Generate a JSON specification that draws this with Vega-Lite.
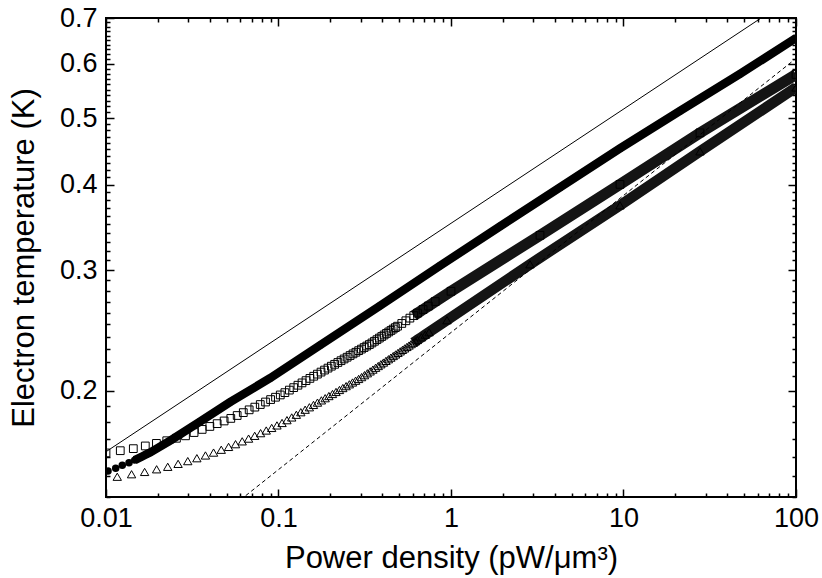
{
  "$schema": "https://vega.github.io/schema/vega-lite/v6.json",
  "width": 690,
  "height": 479,
  "autosize": {"type": "none"},
  "padding": {"left": 106, "top": 18, "right": 26, "bottom": 81},
  "config": {
    "view": {"stroke": "black", "strokeWidth": 2},
    "axis": {
      "domain": false, "grid": false, "tickColor": "black", "tickWidth": 1.5,
      "labelColor": "black", "titleColor": "black",
      "labelFont": "Liberation Sans", "titleFont": "Liberation Sans",
      "labelFontSize": 27, "titleFontSize": 31, "titleFontWeight": "normal",
      "labelFlush": false, "labelOverlap": false
    }
  },
  "datasets": {
    "ref": [
      {"g": "A", "p": 0.01, "t": 0.163}, {"g": "A", "p": 100, "t": 0.7565},
      {"g": "B", "p": 0.06, "t": 0.1386}, {"g": "B", "p": 100, "t": 0.611}
    ],
    "pts": [
      {"g": "C", "p": 0.01027, "t": 0.15276}, {"g": "C", "p": 0.011381, "t": 0.15415}, {"g": "C", "p": 0.012428, "t": 0.15571}, {"g": "C", "p": 0.013594, "t": 0.15707}, {"g": "C", "p": 0.014668, "t": 0.15847}, {"g": "C", "p": 0.015876, "t": 0.16002}, {"g": "C", "p": 0.017161, "t": 0.16159}, {"g": "C", "p": 0.017991, "t": 0.16252}, {"g": "C", "p": 0.023816, "t": 0.16948}, {"g": "C", "p": 0.035066, "t": 0.18033}, {"g": "C", "p": 0.052346, "t": 0.19256}, {"g": "C", "p": 0.089267, "t": 0.20867}, {"g": "C", "p": 0.174, "t": 0.23316}, {"g": "C", "p": 0.38779, "t": 0.26619}, {"g": "C", "p": 0.86344, "t": 0.30446}, {"g": "C", "p": 1.9236, "t": 0.3476}, {"g": "C", "p": 4.2835, "t": 0.39621}, {"g": "C", "p": 9.5437, "t": 0.4517}, {"g": "C", "p": 21.261, "t": 0.51233}, {"g": "C", "p": 47.356, "t": 0.58004}, {"g": "C", "p": 100, "t": 0.65441},
      {"g": "S", "p": 0.01, "t": 0.16234}, {"g": "S", "p": 0.0121, "t": 0.16357}, {"g": "S", "p": 0.0144, "t": 0.1647}, {"g": "S", "p": 0.0169, "t": 0.16619}, {"g": "S", "p": 0.0196, "t": 0.16763}, {"g": "S", "p": 0.0225, "t": 0.16913}, {"g": "S", "p": 0.0256, "t": 0.17055}, {"g": "S", "p": 0.0289, "t": 0.17195}, {"g": "S", "p": 0.0324, "t": 0.17386}, {"g": "S", "p": 0.0361, "t": 0.17569}, {"g": "S", "p": 0.04, "t": 0.17745}, {"g": "S", "p": 0.0441, "t": 0.17913}, {"g": "S", "p": 0.0484, "t": 0.18075}, {"g": "S", "p": 0.0529, "t": 0.18231}, {"g": "S", "p": 0.0576, "t": 0.18409}, {"g": "S", "p": 0.0625, "t": 0.18589}, {"g": "S", "p": 0.0676, "t": 0.18765}, {"g": "S", "p": 0.0729, "t": 0.18935}, {"g": "S", "p": 0.0784, "t": 0.19101}, {"g": "S", "p": 0.0841, "t": 0.19264}, {"g": "S", "p": 0.09, "t": 0.19422}, {"g": "S", "p": 0.0961, "t": 0.19576}, {"g": "S", "p": 0.1024, "t": 0.19727}, {"g": "S", "p": 0.1089, "t": 0.1988}, {"g": "S", "p": 0.1156, "t": 0.2005}, {"g": "S", "p": 0.1225, "t": 0.20217}, {"g": "S", "p": 0.1296, "t": 0.20381}, {"g": "S", "p": 0.1369, "t": 0.20542}, {"g": "S", "p": 0.1444, "t": 0.20699}, {"g": "S", "p": 0.1521, "t": 0.20854}, {"g": "S", "p": 0.16, "t": 0.21006}, {"g": "S", "p": 0.1681, "t": 0.21155}, {"g": "S", "p": 0.1764, "t": 0.21301}, {"g": "S", "p": 0.1849, "t": 0.21446}, {"g": "S", "p": 0.1936, "t": 0.21587}, {"g": "S", "p": 0.2025, "t": 0.21727}, {"g": "S", "p": 0.2116, "t": 0.21864}, {"g": "S", "p": 0.2209, "t": 0.21999}, {"g": "S", "p": 0.2304, "t": 0.22132}, {"g": "S", "p": 0.2401, "t": 0.22263}, {"g": "S", "p": 0.25, "t": 0.22393}, {"g": "S", "p": 0.2601, "t": 0.22519}, {"g": "S", "p": 0.2704, "t": 0.22646}, {"g": "S", "p": 0.2809, "t": 0.22769}, {"g": "S", "p": 0.2916, "t": 0.22892}, {"g": "S", "p": 0.3025, "t": 0.23012}, {"g": "S", "p": 0.3136, "t": 0.23132}, {"g": "S", "p": 0.3249, "t": 0.23249}, {"g": "S", "p": 0.3364, "t": 0.23366}, {"g": "S", "p": 0.3481, "t": 0.23492}, {"g": "S", "p": 0.36, "t": 0.23624}, {"g": "S", "p": 0.3721, "t": 0.23752}, {"g": "S", "p": 0.3844, "t": 0.23879}, {"g": "S", "p": 0.3969, "t": 0.24006}, {"g": "S", "p": 0.4096, "t": 0.2413}, {"g": "S", "p": 0.4225, "t": 0.24254}, {"g": "S", "p": 0.4356, "t": 0.24377}, {"g": "S", "p": 0.4489, "t": 0.24497}, {"g": "S", "p": 0.4624, "t": 0.24617}, {"g": "S", "p": 0.4761, "t": 0.24735}, {"g": "S", "p": 0.49, "t": 0.24853}, {"g": "S", "p": 0.5184, "t": 0.25084}, {"g": "S", "p": 0.5476, "t": 0.25311}, {"g": "S", "p": 0.5776, "t": 0.25535}, {"g": "S", "p": 0.6084, "t": 0.25754}, {"g": "S", "p": 0.64, "t": 0.25969}, {"g": "S", "p": 0.6889, "t": 0.26286}, {"g": "S", "p": 0.7396, "t": 0.26594}, {"g": "S", "p": 0.81, "t": 0.26996}, {"g": "S", "p": 1, "t": 0.27946}, {"g": "S", "p": 3.281, "t": 0.33729}, {"g": "S", "p": 9.5437, "t": 0.40022}, {"g": "S", "p": 27.762, "t": 0.47587}, {"g": "S", "p": 100, "t": 0.57906},
      {"g": "T", "p": 0.011621, "t": 0.14986}, {"g": "T", "p": 0.014066, "t": 0.15113}, {"g": "T", "p": 0.016744, "t": 0.1523}, {"g": "T", "p": 0.019656, "t": 0.15366}, {"g": "T", "p": 0.022801, "t": 0.15495}, {"g": "T", "p": 0.026179, "t": 0.15649}, {"g": "T", "p": 0.029791, "t": 0.15794}, {"g": "T", "p": 0.033636, "t": 0.15949}, {"g": "T", "p": 0.037714, "t": 0.16097}, {"g": "T", "p": 0.042025, "t": 0.16253}, {"g": "T", "p": 0.04657, "t": 0.16409}, {"g": "T", "p": 0.051348, "t": 0.16566}, {"g": "T", "p": 0.056359, "t": 0.16719}, {"g": "T", "p": 0.061603, "t": 0.16879}, {"g": "T", "p": 0.067081, "t": 0.17035}, {"g": "T", "p": 0.072792, "t": 0.17194}, {"g": "T", "p": 0.078736, "t": 0.1735}, {"g": "T", "p": 0.084914, "t": 0.17505}, {"g": "T", "p": 0.091325, "t": 0.17657}, {"g": "T", "p": 0.097969, "t": 0.17807}, {"g": "T", "p": 0.104846, "t": 0.17954}, {"g": "T", "p": 0.111957, "t": 0.18124}, {"g": "T", "p": 0.119301, "t": 0.18291}, {"g": "T", "p": 0.126878, "t": 0.18455}, {"g": "T", "p": 0.134689, "t": 0.18615}, {"g": "T", "p": 0.142733, "t": 0.18772}, {"g": "T", "p": 0.15101, "t": 0.18926}, {"g": "T", "p": 0.15952, "t": 0.19077}, {"g": "T", "p": 0.168264, "t": 0.19225}, {"g": "T", "p": 0.177241, "t": 0.1937}, {"g": "T", "p": 0.186451, "t": 0.19512}, {"g": "T", "p": 0.195895, "t": 0.19652}, {"g": "T", "p": 0.205572, "t": 0.1979}, {"g": "T", "p": 0.215482, "t": 0.19926}, {"g": "T", "p": 0.225625, "t": 0.20058}, {"g": "T", "p": 0.236, "t": 0.20189}, {"g": "T", "p": 0.246612, "t": 0.20318}, {"g": "T", "p": 0.257455, "t": 0.20444}, {"g": "T", "p": 0.268531, "t": 0.2057}, {"g": "T", "p": 0.279841, "t": 0.20693}, {"g": "T", "p": 0.291384, "t": 0.20815}, {"g": "T", "p": 0.30316, "t": 0.20944}, {"g": "T", "p": 0.31517, "t": 0.21081}, {"g": "T", "p": 0.327413, "t": 0.21216}, {"g": "T", "p": 0.339889, "t": 0.2135}, {"g": "T", "p": 0.352598, "t": 0.21481}, {"g": "T", "p": 0.365541, "t": 0.21612}, {"g": "T", "p": 0.378717, "t": 0.2174}, {"g": "T", "p": 0.392126, "t": 0.21868}, {"g": "T", "p": 0.405769, "t": 0.21993}, {"g": "T", "p": 0.419645, "t": 0.22118}, {"g": "T", "p": 0.433754, "t": 0.2224}, {"g": "T", "p": 0.448096, "t": 0.22363}, {"g": "T", "p": 0.462672, "t": 0.22482}, {"g": "T", "p": 0.477481, "t": 0.22602}, {"g": "T", "p": 0.492523, "t": 0.22719}, {"g": "T", "p": 0.507799, "t": 0.22836}, {"g": "T", "p": 0.523308, "t": 0.22951}, {"g": "T", "p": 0.53905, "t": 0.23066}, {"g": "T", "p": 0.555025, "t": 0.23178}, {"g": "T", "p": 0.571234, "t": 0.2329}, {"g": "T", "p": 0.587676, "t": 0.23401}, {"g": "T", "p": 0.604351, "t": 0.23511}, {"g": "T", "p": 0.621259, "t": 0.2362}, {"g": "T", "p": 0.638401, "t": 0.23728}, {"g": "T", "p": 0.673384, "t": 0.23941}, {"g": "T", "p": 0.709301, "t": 0.24151}, {"g": "T", "p": 0.74615, "t": 0.24357}, {"g": "T", "p": 0.94802, "t": 0.25358}, {"g": "T", "p": 2.8707, "t": 0.306}, {"g": "T", "p": 9.5437, "t": 0.37298}, {"g": "T", "p": 27.762, "t": 0.44717}, {"g": "T", "p": 100, "t": 0.5543}
    ]
  },
  "layer": [
    {
      "data": {"name": "ref"},
      "transform": [{"filter": "datum.g == 'A'"}],
      "mark": {"type": "line", "stroke": "black", "strokeWidth": 1, "clip": true},
      "encoding": {
        "x": {"field": "p", "type": "quantitative",
          "scale": {"type": "log", "domain": [0.01, 100], "nice": false},
          "axis": {"orient": "bottom", "title": "Power density (pW/μm³)",
            "values": [0.01,0.02,0.03,0.04,0.05,0.06,0.07,0.08,0.09,0.1,0.2,0.3,0.4,0.5,0.6,0.7,0.8,0.9,1,2,3,4,5,6,7,8,9,10,20,30,40,50,60,70,80,90,100],
            "labelExpr": "abs(log(datum.value)/LN10 - round(log(datum.value)/LN10)) < 0.001 ? format(datum.value, '~g') : ''",
            "tickSize": {"condition": {"test": "abs(log(datum.value)/LN10 - round(log(datum.value)/LN10)) < 0.001", "value": -8}, "value": -4},
            "labelPadding": 16, "titlePadding": 8}},
        "y": {"field": "t", "type": "quantitative",
          "scale": {"type": "log", "domain": [0.14, 0.7], "nice": false},
          "axis": {"orient": "left", "title": "Electron temperature (K)",
            "values": [0.14,0.15,0.16,0.17,0.18,0.19,0.2,0.21,0.22,0.23,0.24,0.25,0.26,0.27,0.28,0.29,0.3,0.31,0.32,0.33,0.34,0.35,0.36,0.37,0.38,0.39,0.4,0.41,0.42,0.43,0.44,0.45,0.46,0.47,0.48,0.49,0.5,0.51,0.52,0.53,0.54,0.55,0.56,0.57,0.58,0.59,0.6,0.61,0.62,0.63,0.64,0.65,0.66,0.67,0.68,0.69,0.7],
            "labelExpr": "abs(datum.value*10 - round(datum.value*10)) < 0.001 ? format(datum.value, '.1f') : ''",
            "tickSize": {"condition": {"test": "abs(datum.value*10 - round(datum.value*10)) < 0.001", "value": -8}, "value": -4},
            "labelPadding": 17, "titlePadding": 19}}
      }
    },
    {
      "data": {"name": "pts"},
      "transform": [{"filter": "datum.g == 'C' && datum.p >= 0.0146"}],
      "mark": {"type": "line", "stroke": "black", "strokeWidth": 8.5, "clip": true},
      "encoding": {
        "x": {"field": "p", "type": "quantitative",
          "scale": {"type": "log", "domain": [0.01, 100], "nice": false},
          "axis": {"orient": "top", "title": null, "labels": false,
            "values": [0.01,0.02,0.03,0.04,0.05,0.06,0.07,0.08,0.09,0.1,0.2,0.3,0.4,0.5,0.6,0.7,0.8,0.9,1,2,3,4,5,6,7,8,9,10,20,30,40,50,60,70,80,90,100],
            "tickSize": {"condition": {"test": "abs(log(datum.value)/LN10 - round(log(datum.value)/LN10)) < 0.001", "value": -8}, "value": -4}}},
        "y": {"field": "t", "type": "quantitative",
          "scale": {"type": "log", "domain": [0.14, 0.7], "nice": false},
          "axis": {"orient": "right", "title": null, "labels": false,
            "values": [0.14,0.15,0.16,0.17,0.18,0.19,0.2,0.21,0.22,0.23,0.24,0.25,0.26,0.27,0.28,0.29,0.3,0.31,0.32,0.33,0.34,0.35,0.36,0.37,0.38,0.39,0.4,0.41,0.42,0.43,0.44,0.45,0.46,0.47,0.48,0.49,0.5,0.51,0.52,0.53,0.54,0.55,0.56,0.57,0.58,0.59,0.6,0.61,0.62,0.63,0.64,0.65,0.66,0.67,0.68,0.69,0.7],
            "tickSize": {"condition": {"test": "abs(datum.value*10 - round(datum.value*10)) < 0.001", "value": -8}, "value": -4}}}
      }
    },
    {
      "data": {"name": "pts"},
      "transform": [{"filter": "datum.g == 'C'"}],
      "mark": {"type": "point", "shape": "circle", "filled": true, "fill": "black", "size": 56, "opacity": 1, "clip": true},
      "encoding": {
        "x": {"field": "p", "type": "quantitative", "scale": {"type": "log", "domain": [0.01, 100], "nice": false}, "axis": null},
        "y": {"field": "t", "type": "quantitative", "scale": {"type": "log", "domain": [0.14, 0.7], "nice": false}, "axis": null}
      }
    },
    {
      "data": {"name": "pts"},
      "transform": [{"filter": "datum.g == 'S' && datum.p >= 0.6"}],
      "mark": {"type": "line", "stroke": "#141414", "strokeWidth": 11, "clip": true},
      "encoding": {
        "x": {"field": "p", "type": "quantitative", "scale": {"type": "log", "domain": [0.01, 100], "nice": false}, "axis": null},
        "y": {"field": "t", "type": "quantitative", "scale": {"type": "log", "domain": [0.14, 0.7], "nice": false}, "axis": null}
      }
    },
    {
      "data": {"name": "pts"},
      "transform": [{"filter": "datum.g == 'S'"}],
      "mark": {"type": "point", "shape": "square", "filled": false, "stroke": "black", "strokeWidth": 1, "size": 60, "opacity": 1, "clip": true},
      "encoding": {
        "x": {"field": "p", "type": "quantitative", "scale": {"type": "log", "domain": [0.01, 100], "nice": false}, "axis": null},
        "y": {"field": "t", "type": "quantitative", "scale": {"type": "log", "domain": [0.14, 0.7], "nice": false}, "axis": null}
      }
    },
    {
      "data": {"name": "pts"},
      "transform": [{"filter": "datum.g == 'T' && datum.p >= 0.6"}],
      "mark": {"type": "line", "stroke": "#141414", "strokeWidth": 10.5, "clip": true},
      "encoding": {
        "x": {"field": "p", "type": "quantitative", "scale": {"type": "log", "domain": [0.01, 100], "nice": false}, "axis": null},
        "y": {"field": "t", "type": "quantitative", "scale": {"type": "log", "domain": [0.14, 0.7], "nice": false}, "axis": null}
      }
    },
    {
      "data": {"name": "pts"},
      "transform": [{"filter": "datum.g == 'T'"}],
      "mark": {"type": "point", "shape": "triangle-up", "filled": false, "stroke": "black", "strokeWidth": 1, "size": 70, "opacity": 1, "clip": true},
      "encoding": {
        "x": {"field": "p", "type": "quantitative", "scale": {"type": "log", "domain": [0.01, 100], "nice": false}, "axis": null},
        "y": {"field": "t", "type": "quantitative", "scale": {"type": "log", "domain": [0.14, 0.7], "nice": false}, "axis": null}
      }
    },
    {
      "data": {"name": "ref"},
      "transform": [{"filter": "datum.g == 'B'"}],
      "mark": {"type": "line", "stroke": "black", "strokeWidth": 1, "strokeDash": [4, 3], "clip": true},
      "encoding": {
        "x": {"field": "p", "type": "quantitative", "scale": {"type": "log", "domain": [0.01, 100], "nice": false}, "axis": null},
        "y": {"field": "t", "type": "quantitative", "scale": {"type": "log", "domain": [0.14, 0.7], "nice": false}, "axis": null}
      }
    }
  ],
  "resolve": {"axis": {"x": "independent", "y": "independent"}}
}
